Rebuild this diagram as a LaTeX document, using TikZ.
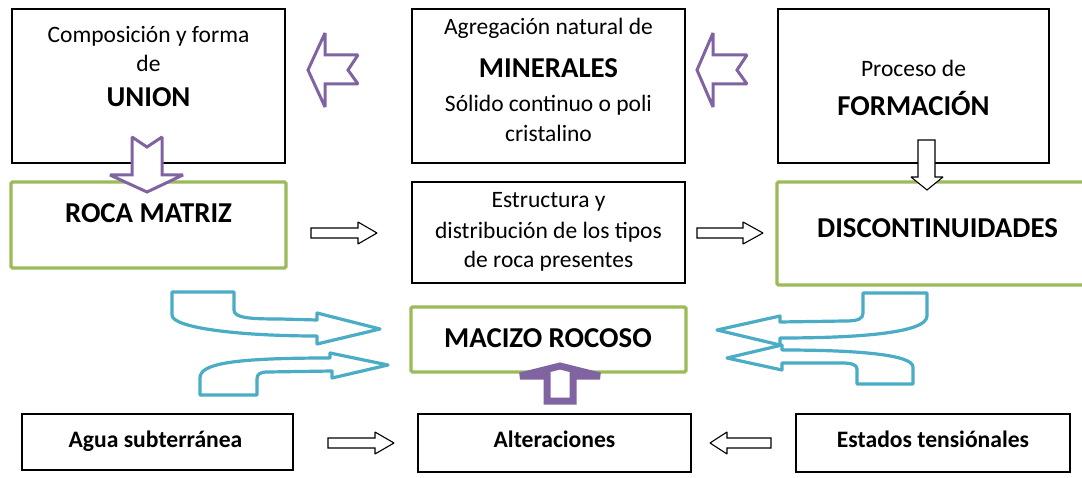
\documentclass[tikz,border=0pt]{standalone}
\usepackage{fontspec}
\setmainfont{Carlito}
\definecolor{ogreen}{HTML}{9BBB59}
\definecolor{opurple}{HTML}{8064A2}
\definecolor{oblue}{HTML}{4BACC6}
\begin{document}
\begin{tikzpicture}[x=1pt,y=-1pt,
  blackbox/.style={draw=black,line width=1.4pt,inner sep=0pt},
  greenbox/.style={draw=ogreen,line width=3.4pt,rounded corners=1.5pt,inner sep=0pt},
  reg/.style={anchor=base,inner sep=0pt,font=\fontsize{23.5}{28}\selectfont},
  bigb/.style={anchor=base,inner sep=0pt,font=\fontsize{28.8}{34}\selectfont\bfseries},
  smallb/.style={anchor=base,inner sep=0pt,font=\fontsize{23.6}{28}\selectfont\bfseries},
  parrow/.style={draw=opurple,line width=3pt,fill=white,miter limit=1.5},
  barrow/.style={draw=oblue,line width=3.2pt,fill=none,line join=round},
  karrow/.style={draw=black,line width=1.1pt,fill=white,miter limit=1.5}]
\clip (0,0) rectangle (1082,478);
\fill[white] (0,0) rectangle (1082,478);
% boxes
\node[blackbox,minimum width=273,minimum height=154] (union) at (148.5,86) {};
\node[blackbox,minimum width=273,minimum height=154] (miner) at (548.5,86) {};
\node[blackbox,minimum width=271,minimum height=154] (form) at (913.5,86) {};
\node[greenbox,minimum width=275,minimum height=86] (roca) at (148.5,225) {};
\node[blackbox,minimum width=273,minimum height=101] (estr) at (548.5,232.5) {};
\node[greenbox,minimum width=308,minimum height=103] (disc) at (931,233.5) {};
\node[greenbox,minimum width=275,minimum height=65] (macizo) at (548.5,339.5) {};
\node[blackbox,minimum width=271,minimum height=56] (agua) at (157.5,442) {};
\node[blackbox,minimum width=273,minimum height=58] (alter) at (554.5,443) {};
\node[blackbox,minimum width=274,minimum height=58] (estad) at (933,443) {};
% texts
\node[reg] (t1a) at (148.5,43) {Composición y forma};
\node[reg] (t1b) at (148.5,72) {de};
\node[bigb] (t1c) at (148.5,107) {UNION};
\node[reg] (t2a) at (548.5,35) {Agregación natural de};
\node[bigb] (t2b) at (548.5,78) {MINERALES};
\node[reg] (t2c) at (548.5,112) {Sólido continuo o poli};
\node[reg] (t2d) at (548.5,142) {cristalino};
\node[reg] (t3a) at (913.5,77) {Proceso de};
\node[bigb] (t3b) at (913.5,116) {FORMACIÓN};
\node[bigb] (t4) at (148.5,223) {ROCA MATRIZ};
\node[reg] (t5a) at (548.5,208) {Estructura y};
\node[reg] (t5b) at (548.5,239) {distribución de los tipos};
\node[reg] (t5c) at (548.5,268) {de roca presentes};
\node[bigb] (t6) at (937.5,238) {DISCONTINUIDADES};
\node[bigb] (t7) at (548,348) {MACIZO ROCOSO};
\node[smallb] (t8) at (155.5,447) {Agua subterránea};
\node[smallb] (t9) at (554.5,447) {Alteraciones};
\node[smallb] (t10) at (933,447) {Estados tensiónales};
% purple arrows
\draw[parrow] (308,70) -- (325,33) -- (325,55) -- (358,55) -- (348,70) -- (358,84) -- (325,84) -- (325,107) -- cycle;
\draw[parrow] (697,70) -- (713,33) -- (713,55) -- (747,55) -- (737,70) -- (747,84) -- (713,84) -- (713,107) -- cycle;
\draw[parrow] (132,137) -- (147,147) -- (162,137) -- (162,175) -- (183,175) -- (147,192) -- (110,175) -- (132,175) -- cycle;
\draw[parrow,line width=7pt] (547,401) -- (547,376) -- (520,376) -- (560,366) -- (600,376) -- (573,376) -- (573,401) -- cycle;
% black hollow arrows
\draw[karrow] (311,228) -- (358,228) -- (358,222) -- (377,233) -- (358,244) -- (358,238) -- (311,238) -- cycle;
\draw[karrow] (697,228) -- (743,228) -- (743,222) -- (763,233) -- (743,244) -- (743,238) -- (697,238) -- cycle;
\draw[karrow] (328,438) -- (375,438) -- (375,432) -- (394,443) -- (375,454) -- (375,448) -- (328,448) -- cycle;
\draw[karrow] (771,438) -- (727,438) -- (727,432) -- (710,443) -- (727,454) -- (727,448) -- (771,448) -- cycle;
\draw[karrow] (918,140) -- (935,140) -- (935,177) -- (943,177) -- (927,190) -- (911,177) -- (918,177) -- cycle;
% blue curved arrows
\draw[barrow] (172,292) -- (234,292) -- (234,310) .. controls (234,318) and (250,319) .. (280,319) -- (317,320) -- (317,313) -- (380,329) -- (317,344) -- (317,336) .. controls (240,336) and (172,328) .. (172,315) -- cycle;
\draw[barrow] (200,395) -- (200,378) .. controls (200,364) and (230,358) .. (330,358) -- (330,353) -- (388,365) -- (332,378) -- (332,371) -- (268,372) .. controls (260,372) and (257,374) .. (257,379) -- (257,395) -- cycle;
\draw[barrow] (863,293) -- (927,293) -- (927,316) .. controls (927,334) and (850,338) .. (780,338) -- (780,345) -- (717,330) -- (780,316) -- (780,322) -- (845,321) .. controls (858,321) and (863,319) .. (863,313) -- cycle;
\draw[barrow] (913,384) -- (857,384) -- (857,369) .. controls (857,365) and (852,363) .. (842,363) -- (782,363) -- (782,370) -- (727,358) -- (782,345) -- (782,350) .. controls (860,350) and (913,355) .. (913,367) -- cycle;
\end{tikzpicture}
\end{document}
